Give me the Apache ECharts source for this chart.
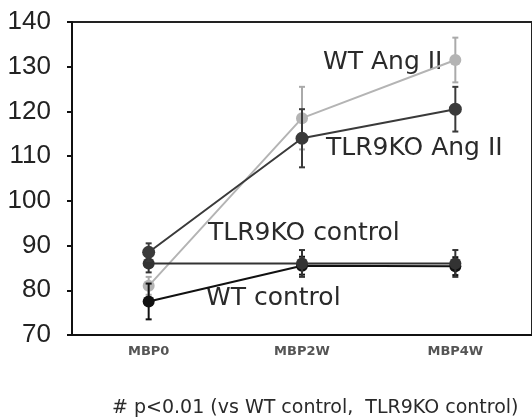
<!DOCTYPE html>
<html>
<head>
<meta charset="utf-8">
<script src="https://cdn.jsdelivr.net/npm/echarts@6/dist/echarts.min.js"></script>
<style>
  html, body { margin: 0; padding: 0; background: #fff; }
  #chart { width: 532px; height: 420px; }
</style>
</head>
<body>
<div id="chart"></div>
<script>
const categories = ['MBP0', 'MBP2W', 'MBP4W'];
const yTicks = [70, 80, 90, 100, 110, 120, 130, 140];

// mean values
const wtAng = [81, 118.5, 131.5];
const koAng = [88.5, 114, 120.5];
const koCtrl = [86, 86, 86];
const wtCtrl = [77.5, 85.5, 85.4];

// error half-widths
const wtAngErr = [2, 7, 5];
const koAngErr = [2, 6.5, 5];
const koCtrlErr = [2, 3, 3];
const wtCtrlErr = [4, 2, 2];

const chart = echarts.init(document.getElementById('chart'));

function errorData(vals, errs) {
  return vals.map((v, i) => [i, v - errs[i], v + errs[i]]);
}

function errorSeries(vals, errs, color, z) {
  return {
    type: 'custom',
    z: z,
    silent: true,
    data: errorData(vals, errs),
    renderItem: function (params, api) {
      const lo = api.coord([api.value(0), api.value(1)]);
      const hi = api.coord([api.value(0), api.value(2)]);
      const cap = 3;
      const style = { stroke: color, lineWidth: 2 };
      return {
        type: 'group',
        children: [
          { type: 'line', shape: { x1: lo[0], y1: lo[1], x2: hi[0], y2: hi[1] }, style: style },
          { type: 'line', shape: { x1: lo[0] - cap, y1: lo[1], x2: lo[0] + cap, y2: lo[1] }, style: style },
          { type: 'line', shape: { x1: hi[0] - cap, y1: hi[1], x2: hi[0] + cap, y2: hi[1] }, style: style }
        ]
      };
    }
  };
}

function lineSeries(name, vals, color, size, z) {
  return {
    name: name,
    type: 'line',
    data: vals,
    z: z,
    symbol: 'circle',
    symbolSize: size,
    lineStyle: { color: color, width: 2 },
    itemStyle: { color: color },
    emphasis: { disabled: true }
  };
}

const textFont = '"DejaVu Sans", "Noto Sans", sans-serif';

function note(text, x, y, size) {
  return {
    type: 'text', x: x, y: y,
    style: { text: text, font: size + 'px ' + textFont, fill: '#2a2a2a', verticalAlign: 'middle' }
  };
}

const option = {
  animation: false,
  grid: {
    left: 72, top: 22, width: 465, height: 313,
    show: true, borderColor: '#222', borderWidth: 2
  },
  xAxis: {
    type: 'category',
    data: categories,
    axisLine: { lineStyle: { color: '#111', width: 2 } },
    axisTick: { alignWithLabel: true, length: 4, lineStyle: { color: '#111', width: 2 } },
    axisLabel: {
      color: '#555', fontSize: 13, fontWeight: 'bold', margin: 10,
      fontFamily: '"DejaVu Sans", sans-serif'
    }
  },
  yAxis: {
    type: 'value',
    min: yTicks[0],
    max: yTicks[yTicks.length - 1],
    interval: 10,
    axisLine: { show: true, lineStyle: { color: '#111', width: 2 } },
    axisTick: { show: true, length: 5, lineStyle: { color: '#111', width: 2 } },
    splitLine: { show: false },
    axisLabel: {
      color: '#222', fontSize: 26, margin: 21,
      fontFamily: '"Liberation Sans", Arial, sans-serif'
    }
  },
  series: [
    errorSeries(wtAng, wtAngErr, '#aaaaaa', 2),
    lineSeries('WT Ang II', wtAng, '#b4b4b4', 12, 3),
    errorSeries(wtCtrl, wtCtrlErr, '#111111', 4),
    lineSeries('WT control', wtCtrl, '#111111', 12, 5),
    errorSeries(koCtrl, koCtrlErr, '#333333', 6),
    lineSeries('TLR9KO control', koCtrl, '#333333', 12, 7),
    errorSeries(koAng, koAngErr, '#3a3a3a', 8),
    lineSeries('TLR9KO Ang II', koAng, '#3a3a3a', 13, 9)
  ],
  graphic: [
    note('WT Ang II', 323, 62, 25),
    note('TLR9KO Ang II', 326, 148, 25),
    note('TLR9KO control', 208, 233, 25),
    note('WT control', 206, 298, 25),
    note('# p<0.01 (vs WT control,  TLR9KO control)', 112, 408, 19)
  ]
};

chart.setOption(option);
</script>
</body>
</html>
